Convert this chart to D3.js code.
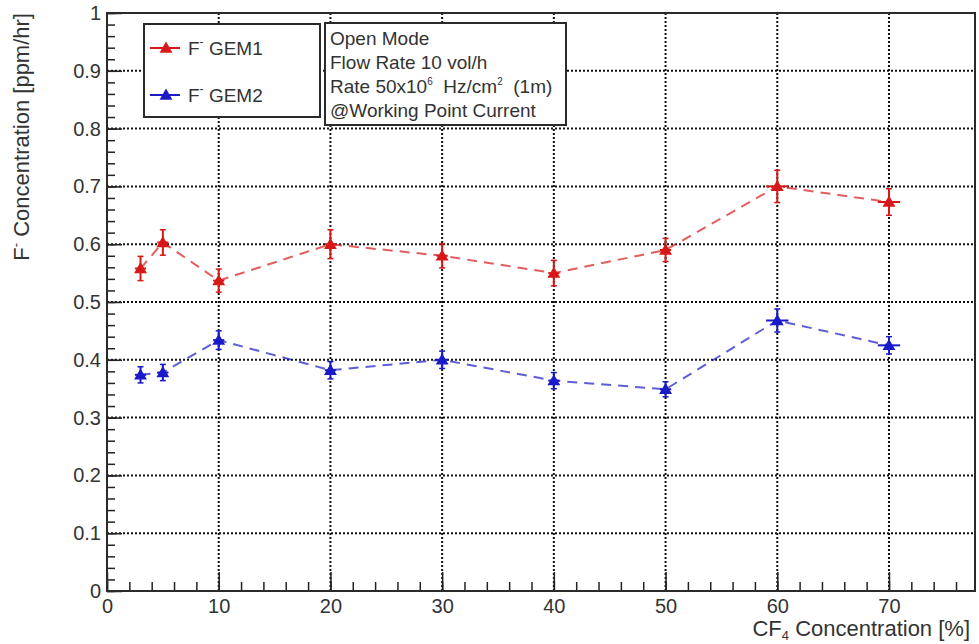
<!DOCTYPE html>
<html>
<head>
<meta charset="utf-8">
<script src="https://cdn.jsdelivr.net/npm/d3@7"></script>
<style>
  html, body { margin: 0; padding: 0; background: #fff; }
  svg { display: block; font-family: "Liberation Sans", Arial, sans-serif; }
</style>
</head>
<body>
<div id="chart"></div>
<script>
// CF4 concentration scan — F- concentration for two GEM chambers

const concentrations = [3, 5, 10, 20, 30, 40, 50, 60, 70];
const concErr = [0.5, 0.5, 0.5, 0.5, 0.5, 0.5, 0.5, 1, 1];
const gem1 = [0.558, 0.603, 0.537, 0.600, 0.580, 0.550, 0.590, 0.700, 0.673];
const gem1Err = [0.021, 0.022, 0.020, 0.025, 0.021, 0.022, 0.020, 0.028, 0.023];
const gem2 = [0.374, 0.378, 0.434, 0.382, 0.400, 0.364, 0.349, 0.468, 0.425];
const gem2Err = [0.014, 0.014, 0.016, 0.015, 0.015, 0.014, 0.013, 0.020, 0.015];

const xMajor = [0, 10, 20, 30, 40, 50, 60, 70];
const yMajor = [0, 0.1, 0.2, 0.3, 0.4, 0.5, 0.6, 0.7, 0.8, 0.9, 1];
const infoLines = ['Open Mode', 'Flow Rate 10 vol/h', null, '@Working Point Current'];

const W = 979, H = 644;
const MARGIN = { top: 13, right: 4, bottom: 53, left: 107 };
const innerW = W - MARGIN.left - MARGIN.right;
const innerH = H - MARGIN.top - MARGIN.bottom;
const TEXT = '#333';
const RED = '#d81818';
const BLUE = '#1a1ac8';
const NB = '\u00a0';

const svg = d3.select('#chart').append('svg')
  .attr('width', W)
  .attr('height', H);

const g = svg.append('g').attr('transform', `translate(${MARGIN.left},${MARGIN.top})`);

const x = d3.scaleLinear().domain([0, 77.7]).range([0, innerW]);
const y = d3.scaleLinear().domain([0, 1]).range([innerH, 0]);

// dotted grid
g.append('g').selectAll('line').data(xMajor.filter(d => d > 0)).join('line')
  .attr('x1', d => x(d)).attr('x2', d => x(d))
  .attr('y1', 0).attr('y2', innerH)
  .attr('stroke', '#111').attr('stroke-width', 2).attr('stroke-dasharray', '2,2');
g.append('g').selectAll('line').data(yMajor.filter(d => d > 0 && d < 1)).join('line')
  .attr('x1', 0).attr('x2', innerW)
  .attr('y1', d => y(d)).attr('y2', d => y(d))
  .attr('stroke', '#111').attr('stroke-width', 2).attr('stroke-dasharray', '2,2');

// axes (ticks pointing inward)
const xMinor = d3.range(0, 77, 2);
const yMinor = d3.range(0, 1.0001, 0.02);

g.append('g').attr('transform', `translate(0,${innerH})`)
  .call(d3.axisBottom(x).tickValues(xMinor).tickSizeInner(-9).tickSizeOuter(0).tickFormat(''))
  .call(a => a.select('.domain').remove());
g.append('g').attr('transform', `translate(0,${innerH})`)
  .call(d3.axisBottom(x).tickValues(xMajor).tickSizeInner(-19).tickSizeOuter(0).tickPadding(8))
  .call(a => a.select('.domain').remove());

g.append('g')
  .call(d3.axisLeft(y).tickValues(yMinor).tickSizeInner(-8).tickSizeOuter(0).tickFormat(''))
  .call(a => a.select('.domain').remove());
g.append('g')
  .call(d3.axisLeft(y).tickValues(yMajor).tickSizeInner(-15).tickSizeOuter(0).tickPadding(6)
    .tickFormat(d => d3.format('~g')(d)))
  .call(a => a.select('.domain').remove());

g.selectAll('.tick line').attr('stroke', '#222').attr('stroke-width', 1.5);
g.selectAll('.tick text').attr('fill', TEXT).style('font-size', '20px');

// frame
g.append('rect')
  .attr('x', 0).attr('y', 0).attr('width', innerW).attr('height', innerH)
  .attr('fill', 'none').attr('stroke', '#2a2a2a').attr('stroke-width', 2);

// series
const series = [
  { values: gem1, errs: gem1Err, color: RED, name: 'GEM1' },
  { values: gem2, errs: gem2Err, color: BLUE, name: 'GEM2' }
];
const tri = d3.symbol().type(d3.symbolTriangle).size(72);

for (const s of series) {
  const pts = concentrations.map((c, i) => ({ c, v: s.values[i], e: s.errs[i], ce: concErr[i] }));

  g.append('path')
    .datum(pts)
    .attr('fill', 'none')
    .attr('stroke', s.color)
    .attr('stroke-opacity', 0.7)
    .attr('stroke-width', 2)
    .attr('stroke-dasharray', '10,7')
    .attr('d', d3.line().x(d => x(d.c)).y(d => y(d.v)));

  const pg = g.append('g').selectAll('g').data(pts).join('g');
  pg.append('line')
    .attr('x1', d => x(d.c)).attr('x2', d => x(d.c))
    .attr('y1', d => y(d.v - d.e)).attr('y2', d => y(d.v + d.e))
    .attr('stroke', s.color).attr('stroke-width', 2);
  pg.append('line')
    .attr('x1', d => x(d.c - d.ce)).attr('x2', d => x(d.c + d.ce))
    .attr('y1', d => y(d.v)).attr('y2', d => y(d.v))
    .attr('stroke', s.color).attr('stroke-width', 2);
  for (const k of [-1, 1]) {
    pg.append('line')
      .attr('x1', d => x(d.c) - 3).attr('x2', d => x(d.c) + 3)
      .attr('y1', d => y(d.v + k * d.e)).attr('y2', d => y(d.v + k * d.e))
      .attr('stroke', s.color).attr('stroke-width', 1.5);
  }
  pg.append('path')
    .attr('transform', d => `translate(${x(d.c)},${y(d.v) + 1})`)
    .attr('d', tri)
    .attr('fill', s.color);
}

// legend box
const leg = svg.append('g');
leg.append('rect')
  .attr('x', 144).attr('y', 24).attr('width', 176).attr('height', 93)
  .attr('fill', '#fff').attr('stroke', '#2a2a2a').attr('stroke-width', 2);
series.forEach((s, i) => {
  const cy = 48 + i * 47;
  leg.append('line')
    .attr('x1', 150).attr('x2', 180).attr('y1', cy).attr('y2', cy)
    .attr('stroke', s.color).attr('stroke-width', 2);
  leg.append('path')
    .attr('transform', `translate(166,${cy + 1})`)
    .attr('d', tri).attr('fill', s.color);
  const t = leg.append('text')
    .attr('x', 188).attr('y', cy + 7)
    .attr('fill', TEXT).style('font-size', '19px');
  t.append('tspan').text('F');
  t.append('tspan').attr('dy', -9).style('font-size', '12px').text('-');
  t.append('tspan').attr('dy', 9).text(' ' + s.name);
});

// info box
const info = svg.append('g');
info.append('rect')
  .attr('x', 325).attr('y', 23).attr('width', 241).attr('height', 102)
  .attr('fill', '#fff').attr('stroke', '#2a2a2a').attr('stroke-width', 2);
infoLines.forEach((line, i) => {
  const t = info.append('text')
    .attr('x', 330).attr('y', 45 + i * 24)
    .attr('fill', TEXT).style('font-size', '19px');
  if (line) {
    t.text(line);
  } else {
    t.append('tspan').text('Rate 50x10');
    t.append('tspan').attr('dy', -8).style('font-size', '10px').text('6');
    t.append('tspan').attr('dy', 8).text(NB + NB + 'Hz/cm');
    t.append('tspan').attr('dy', -8).style('font-size', '10px').text('2');
    t.append('tspan').attr('dy', 8).text(NB + NB + '(1m)');
  }
});

// axis titles
const xt = svg.append('text')
  .attr('x', 970).attr('y', 636)
  .attr('text-anchor', 'end')
  .attr('fill', TEXT).style('font-size', '22px');
xt.append('tspan').text('CF');
xt.append('tspan').attr('dy', 4).style('font-size', '13px').text('4');
xt.append('tspan').attr('dy', -4).text(' Concentration [%]');

const yt = svg.append('text')
  .attr('transform', 'translate(29,13) rotate(-90)')
  .attr('text-anchor', 'end')
  .attr('fill', TEXT).style('font-size', '22px');
yt.append('tspan').text('F');
yt.append('tspan').attr('dy', -9).style('font-size', '13px').text('-');
yt.append('tspan').attr('dy', 9).text(' Concentration [ppm/hr]');
</script>
</body>
</html>
